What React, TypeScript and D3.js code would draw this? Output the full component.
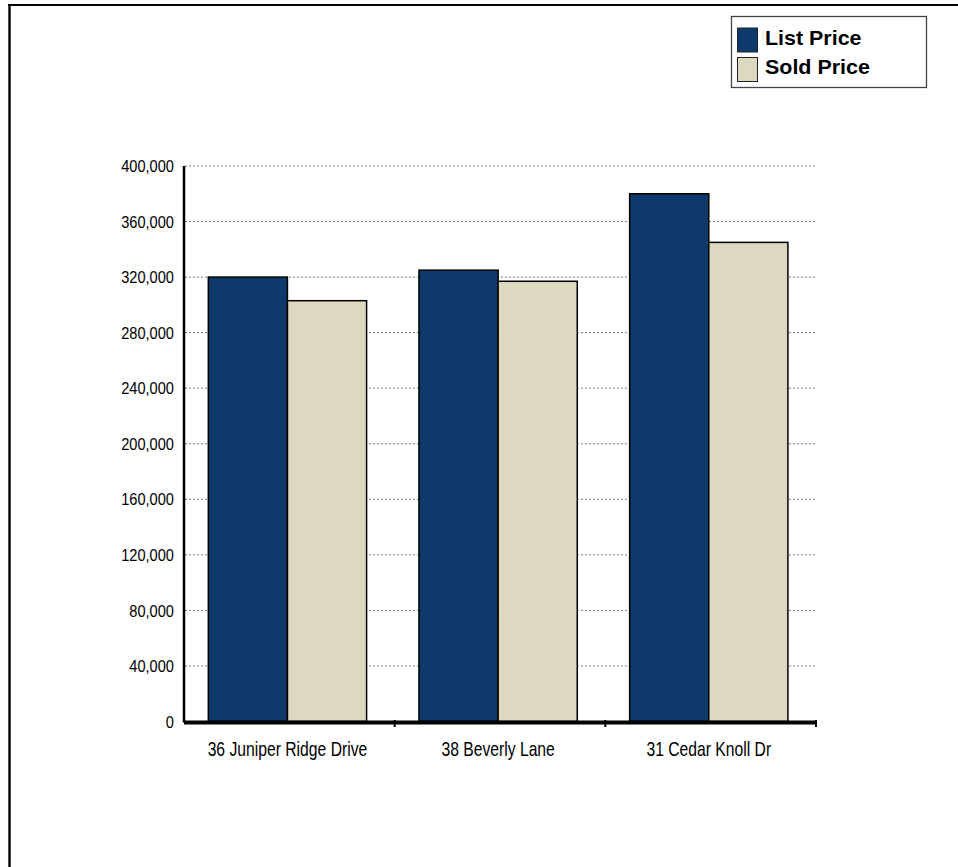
import React from "react";
import * as d3 from "d3";

const categories = ["36 Juniper Ridge Drive", "38 Beverly Lane", "31 Cedar Knoll Dr"];
const seriesNames = ["List Price", "Sold Price"];
const listPrice = [320000, 325000, 380000];
const soldPrice = [303000, 317000, 345000];
const yTicks = [0, 40000, 80000, 120000, 160000, 200000, 240000, 280000, 320000, 360000, 400000];

const colors = ["#0d3a6b", "#ddd8c0"];
const FONT = "'Liberation Sans', Arial, sans-serif";

export default function App() {
  const W = 958, H = 867;
  const left = 184, right = 816, top = 166, bottom = 721.5;

  const x0 = d3.scaleBand<string>().domain(categories).range([left, right]).padding(0);
  const x1 = d3
    .scaleBand<string>()
    .domain(seriesNames)
    .range([0, x0.bandwidth()])
    .paddingInner(0)
    .paddingOuter(0.331)
    .align(0.464);
  const y = d3.scaleLinear().domain([0, 400000]).range([bottom, top]);
  const fmt = d3.format(",");
  const values = [listPrice, soldPrice];

  return (
    <svg
      width={W}
      height={H}
      style={{ position: "absolute", left: 0, top: 0, display: "block", background: "#fff" }}
    >
      {/* outer frame */}
      <line x1={8} y1={5} x2={W + 5} y2={5} stroke="#000" strokeWidth={2.2} />
      <line x1={9.5} y1={4} x2={9.5} y2={H + 5} stroke="#000" strokeWidth={2.4} />

      {/* gridlines */}
      {yTicks.slice(1).map((t) => (
        <line
          key={t}
          x1={left + 1}
          x2={right - 1}
          y1={y(t)}
          y2={y(t)}
          stroke="#7a7a7a"
          strokeWidth={1}
          strokeDasharray="2,2"
        />
      ))}

      {/* bars */}
      {categories.map((c, i) => (
        <g key={c}>
          {seriesNames.map((s, j) => (
            <rect
              key={s}
              x={(x0(c) as number) + (x1(s) as number)}
              y={y(values[j][i])}
              width={x1.bandwidth()}
              height={bottom - y(values[j][i])}
              fill={colors[j]}
              stroke="#000"
              strokeWidth={1.5}
            />
          ))}
        </g>
      ))}

      {/* y axis */}
      <line x1={left} x2={left} y1={top} y2={bottom + 1} stroke="#000" strokeWidth={2.5} />
      {yTicks.map((t) => (
        <text
          key={t}
          transform={`translate(174,${y(t)}) scale(0.86,1)`}
          textAnchor="end"
          dy="0.36em"
          fontFamily={FONT}
          fontSize={17}
          fill="#000"
        >
          {fmt(t)}
        </text>
      ))}

      {/* x axis */}
      <line x1={left} x2={right} y1={bottom + 1} y2={bottom + 1} stroke="#000" strokeWidth={4} />
      {categories.map((c) => (
        <line
          key={c}
          x1={(x0(c) as number) + x0.bandwidth()}
          x2={(x0(c) as number) + x0.bandwidth()}
          y1={bottom - 1.5}
          y2={bottom + 5.5}
          stroke="#000"
          strokeWidth={2}
        />
      ))}
      {categories.map((c) => (
        <text
          key={c}
          transform={`translate(${(x0(c) as number) + (x1(seriesNames[0]) as number) + x1.bandwidth()},756) scale(0.785,1)`}
          textAnchor="middle"
          fontFamily={FONT}
          fontSize={20}
          fill="#000"
        >
          {c}
        </text>
      ))}

      {/* legend */}
      <rect x={731.5} y={16.5} width={195} height={71} fill="#fff" stroke="#444" strokeWidth={1.3} />
      {seriesNames.map((s, j) => (
        <g key={s} transform={`translate(737,${27.5 + j * 29.5})`}>
          <rect x={0.5} y={0.5} width={20} height={24} fill={colors[j]} stroke="#222" strokeWidth={1} />
          <text
            transform={`translate(28,17) scale(1.1,1)`}
            fontFamily={FONT}
            fontSize={19.5}
            fontWeight="bold"
            fill="#000"
          >
            {s}
          </text>
        </g>
      ))}
    </svg>
  );
}
